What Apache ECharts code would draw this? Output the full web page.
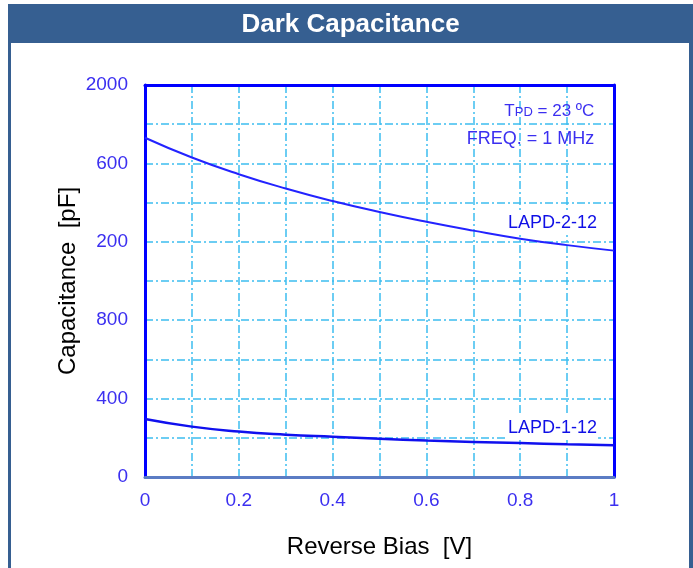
<!DOCTYPE html>
<html>
<head>
<meta charset="utf-8">
<script src="https://cdn.jsdelivr.net/npm/echarts@6/dist/echarts.min.js"></script>
<style>
    html, body { margin: 0; padding: 0; background: #fff; }
    #chart { width: 693px; height: 568px; }
</style>
</head>
<body>
<div id="chart"></div>
<script>
// reverse bias (V) sample points
const biasV = [0, 0.1, 0.2, 0.3, 0.4, 0.5, 0.6, 0.7, 0.8, 0.9, 1.0];
// capacitance (pF)
const lapd212 = [1731, 1630, 1545, 1472, 1408, 1352, 1302, 1257, 1216, 1183, 1155];
const lapd112 = [296, 257, 232, 216, 205, 195, 186, 179, 173, 167, 162];

// tick labels as printed on the figure
const xTickLabels = ['0', '0.2', '0.4', '0.6', '0.8', '1'];
const yTickLabels = ['0', '400', '800', '200', '600', '2000'];

const frameColor = '#365f91';
const textBlue = '#3b2ff0';
const gridCyan = '#3cbdf0';
const dashDot = { color: gridCyan, width: 1.5, type: [8, 3, 2, 3] };

function pairs(ys) {
    return biasV.map((x, i) => [x, ys[i]]);
}

// plain blue edge used for the top and right side of the plot box
function edgeAxis(extra) {
    return Object.assign({
        type: 'value',
        axisLine: { show: true, onZero: false, lineStyle: { color: '#0000ff', width: 3 } },
        axisTick: { show: false },
        axisLabel: { show: false },
        splitLine: { show: false }
    }, extra);
}

let chart = echarts.init(document.getElementById('chart'));
let option = {
    animation: false,
    textStyle: { fontFamily: 'Liberation Sans, Arial, sans-serif' },
    graphic: [
        { type: 'rect', shape: { x: 8, y: 4, width: 685, height: 39 }, style: { fill: frameColor } },
        { type: 'rect', shape: { x: 8, y: 43, width: 3, height: 525 }, style: { fill: frameColor } },
        { type: 'rect', shape: { x: 689, y: 43, width: 4, height: 525 }, style: { fill: frameColor } },
        {
            type: 'text', x: 350.5, y: 25,
            style: {
                text: 'Dark Capacitance', fill: '#fff', align: 'center', verticalAlign: 'middle',
                font: 'bold 26px "Liberation Sans", Arial, sans-serif'
            }
        }
    ],
    grid: {
        left: 145, top: 85, width: 469, height: 392,
        show: true, borderWidth: 0, backgroundColor: '#fff'
    },
    xAxis: [
        {
            type: 'value', min: 0, max: 1, interval: 0.1,
            name: 'Reverse Bias  [V]', nameLocation: 'middle', nameGap: 58,
            nameTextStyle: { color: '#000', fontSize: 24 },
            axisLine: { show: true, lineStyle: { color: '#5b7cc4', width: 3 } },
            axisTick: { show: false },
            axisLabel: {
                color: textBlue, fontSize: 19, margin: 14,
                formatter: v => {
                    let k = Math.round(v * 10);
                    return k % 2 === 0 ? xTickLabels[k / 2] : '';
                }
            },
            splitLine: { show: true, lineStyle: dashDot }
        },
        edgeAxis({ position: 'top', min: 0, max: 1 })
    ],
    yAxis: [
        {
            type: 'value', min: 0, max: 2000, interval: 200,
            name: 'Capacitance  [pF]', nameLocation: 'middle', nameGap: 65, nameRotate: 90,
            nameMoveOverlap: false,
            nameTextStyle: { color: '#000', fontSize: 24 },
            axisLine: { show: true, onZero: false, lineStyle: { color: '#0000ff', width: 3 } },
            axisTick: { show: false },
            axisLabel: {
                color: textBlue, fontSize: 19, margin: 17,
                formatter: v => {
                    let k = Math.round(v / 200);
                    return k % 2 === 0 ? yTickLabels[k / 2] : '';
                }
            },
            splitLine: { show: true, lineStyle: dashDot }
        },
        edgeAxis({ position: 'right', min: 0, max: 2000 })
    ],
    series: [
        {
            name: 'LAPD-2-12', type: 'line', smooth: true, symbol: 'none',
            data: pairs(lapd212),
            lineStyle: { color: '#2323ff', width: 2 },
            markPoint: {
                symbol: 'circle', symbolSize: 0, silent: true,
                data: [
                    {
                        coord: [0.966, 1296],
                        label: {
                            show: true, position: 'left', distance: 0, formatter: 'LAPD-2-12',
                            color: '#1010e6', fontSize: 18, backgroundColor: '#fff', padding: [3, 1, 3, 2]
                        }
                    },
                    {
                        coord: [0.958, 1868],
                        label: {
                            show: true, position: 'left', distance: 0,
                            formatter: '{t|T}{s|PD}{t| = 23 ºC}',
                            rich: {
                                t: { color: textBlue, fontSize: 17 },
                                s: { color: textBlue, fontSize: 13, verticalAlign: 'bottom' }
                            }
                        }
                    },
                    {
                        coord: [0.958, 1724],
                        label: {
                            show: true, position: 'left', distance: 0, formatter: 'FREQ. = 1 MHz',
                            color: textBlue, fontSize: 18
                        }
                    }
                ]
            }
        },
        {
            name: 'LAPD-1-12', type: 'line', smooth: true, symbol: 'none',
            data: pairs(lapd112),
            lineStyle: { color: '#1010ee', width: 2.5 },
            markPoint: {
                symbol: 'circle', symbolSize: 0, silent: true,
                data: [
                    {
                        coord: [0.966, 250],
                        label: {
                            show: true, position: 'left', distance: 0, formatter: 'LAPD-1-12',
                            color: '#1010e6', fontSize: 18, backgroundColor: '#fff', padding: [3, 1, 3, 2]
                        }
                    }
                ]
            }
        }
    ]
};
chart.setOption(option);
</script>
</body>
</html>
